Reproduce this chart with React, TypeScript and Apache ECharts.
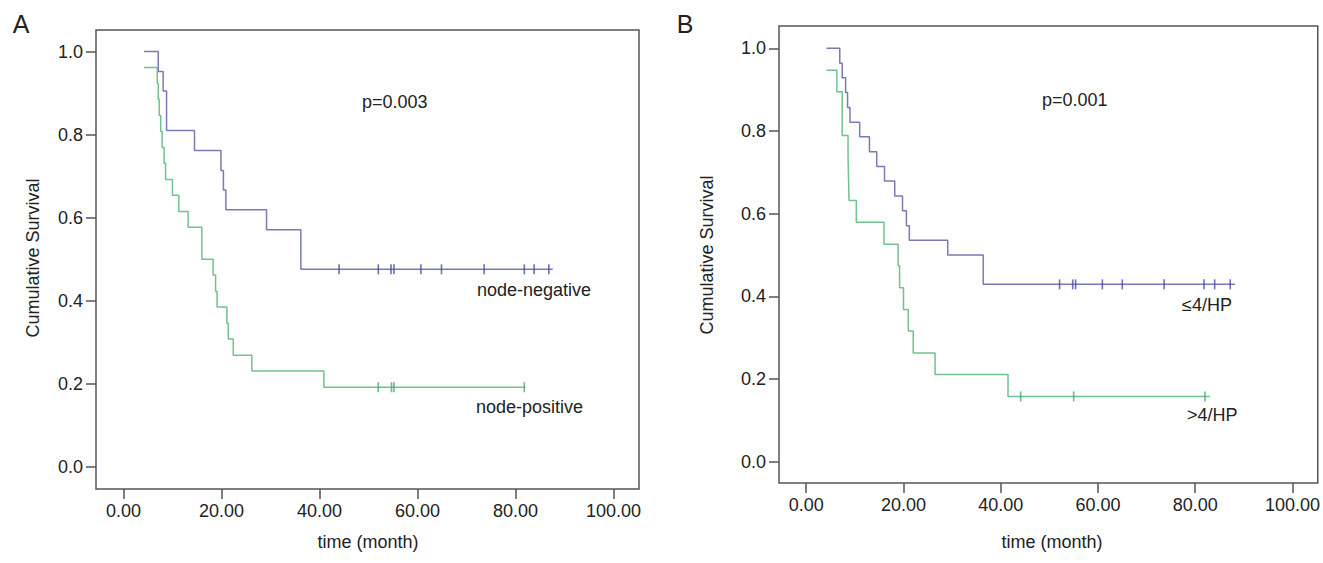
import React, { useEffect, useRef } from "react";
import * as echarts from "echarts";

// ---- Data (months, cumulative survival) ----
const xTicks = [0, 20, 40, 60, 80, 100];
const yTicks = [0, 0.2, 0.4, 0.6, 0.8, 1.0];

// Panel A
const aNegTimes = [4.2, 7.1, 8.1, 8.8, 14.5, 19.9, 20.4, 20.9, 29.2, 36.2, 87.6];
const aNegSurv = [1.0, 0.952, 0.905, 0.81, 0.762, 0.714, 0.667, 0.619, 0.571, 0.476, 0.476];
const aNegCensor = [44.0, 52.0, 54.6, 55.2, 60.7, 64.9, 73.6, 81.8, 83.8, 86.8];

const aPosTimes = [4.2, 6.9, 7.1, 7.3, 7.6, 7.9, 8.3, 8.6, 10.0, 11.3, 13.2, 16.0, 18.3, 18.8, 19.1, 21.1, 21.4, 22.4, 26.2, 40.9, 82.0];
const aPosSurv = [0.962, 0.923, 0.885, 0.846, 0.808, 0.769, 0.731, 0.692, 0.654, 0.615, 0.577, 0.5, 0.462, 0.423, 0.385, 0.346, 0.308, 0.269, 0.231, 0.192, 0.192];
const aPosCensor = [52.0, 54.7, 55.2, 81.8];

// Panel B
const bLowTimes = [4.15, 6.9, 7.4, 8.1, 8.5, 9.0, 11.0, 13.0, 14.5, 16.1, 18.2, 19.8, 20.6, 21.2, 29.1, 36.4, 88.2];
const bLowSurv = [1.0, 0.964, 0.929, 0.893, 0.857, 0.821, 0.786, 0.75, 0.714, 0.679, 0.643, 0.607, 0.571, 0.536, 0.5, 0.429, 0.429];
const bLowCensor = [52.1, 54.8, 55.4, 60.9, 65.0, 73.6, 81.8, 84.0, 87.2];

const bHighTimes = [4.15, 6.3, 7.4, 8.6, 8.7, 8.8, 10.3, 16.0, 18.9, 19.2, 20.0, 21.0, 22.0, 26.5, 41.5, 83.0];
const bHighSurv = [0.947, 0.895, 0.789, 0.737, 0.684, 0.632, 0.579, 0.526, 0.474, 0.421, 0.368, 0.316, 0.263, 0.211, 0.158, 0.158];
const bHighCensor = [44.1, 55.0, 82.0];

const FONT = "Liberation Sans, Arial, sans-serif";
const BLUE = "#7a7ab4";
const BLUE_C = "#4a4aa8";
const GREEN = "#72c290";
const GREEN_C = "#4aa86a";

function survAt(times: number[], surv: number[], t: number) {
  let s = surv[0];
  for (let i = 0; i < times.length; i++) if (times[i] <= t) s = surv[i];
  return s;
}

function curveSeries(idx: number, times: number[], surv: number[], censor: number[], color: string, cColor: string) {
  return [
    {
      type: "line",
      xAxisIndex: idx,
      yAxisIndex: idx,
      step: "end",
      showSymbol: false,
      symbol: "none",
      lineStyle: { color, width: 1.5 },
      data: times.map((t, i) => [t, surv[i]]),
      z: 2,
    },
    {
      type: "scatter",
      xAxisIndex: idx,
      yAxisIndex: idx,
      symbol: "rect",
      symbolSize: [1.6, 10],
      itemStyle: { color: cColor },
      data: censor.map((t) => [t, survAt(times, surv, t)]),
      z: 3,
    },
  ];
}

function xAxis(idx: number) {
  return {
    type: "value",
    gridIndex: idx,
    min: -5.6,
    max: 105.2,
    axisLine: { show: false, onZero: false },
    splitLine: { show: false },
    axisTick: { show: true, inside: false, length: 10, customValues: xTicks, lineStyle: { color: "#555", width: 1.5 } },
    axisLabel: {
      customValues: xTicks,
      formatter: (v: number) => v.toFixed(2),
      fontSize: 18,
      fontFamily: FONT,
      color: "#222",
      margin: 13,
    },
  };
}

function yAxis(idx: number, min: number, max: number) {
  return {
    type: "value",
    gridIndex: idx,
    min,
    max,
    axisLine: { show: false, onZero: false },
    splitLine: { show: false },
    axisTick: { show: true, inside: false, length: 10, customValues: yTicks, lineStyle: { color: "#555", width: 1.5 } },
    axisLabel: {
      customValues: yTicks,
      formatter: (v: number) => v.toFixed(1),
      fontSize: 18,
      fontFamily: FONT,
      color: "#222",
      margin: 13,
    },
  };
}

function txt(x: number, y: number, text: string, size = 18, align = "left", rotation = 0) {
  return {
    type: "text",
    x,
    y,
    rotation,
    style: { text, fontSize: size, fontFamily: FONT, fill: "#222", textAlign: align, textVerticalAlign: "middle" },
  };
}

export default function App() {
  const ref = useRef<HTMLDivElement>(null);
  useEffect(() => {
    document.body.style.margin = "0";
    const chart = echarts.init(ref.current!, null, { renderer: "svg" });
    chart.setOption({
      animation: false,
      backgroundColor: "#fff",
      grid: [
        { left: 96, top: 30, width: 543, height: 459, show: true, borderColor: "#555", borderWidth: 1.5, backgroundColor: "transparent" },
        { left: 779, top: 26, width: 539, height: 457, show: true, borderColor: "#555", borderWidth: 1.5, backgroundColor: "transparent" },
      ],
      xAxis: [xAxis(0), xAxis(1)],
      yAxis: [yAxis(0, -0.053, 1.052), yAxis(1, -0.0515, 1.054)],
      series: [
        ...curveSeries(0, aNegTimes, aNegSurv, aNegCensor, BLUE, BLUE_C),
        ...curveSeries(0, aPosTimes, aPosSurv, aPosCensor, GREEN, GREEN_C),
        ...curveSeries(1, bLowTimes, bLowSurv, bLowCensor, BLUE, BLUE_C),
        ...curveSeries(1, bHighTimes, bHighSurv, bHighCensor, GREEN, GREEN_C),
      ],
      graphic: [
        txt(21, 24, "A", 25, "center"),
        txt(685, 24, "B", 25, "center"),
        txt(362, 102, "p=0.003"),
        txt(1042, 100, "p=0.001"),
        txt(477, 290, "node-negative"),
        txt(476, 407, "node-positive"),
        txt(1182, 305, "≤4/HP"),
        txt(1187, 415, ">4/HP"),
        txt(368, 542, "time (month)", 18, "center"),
        txt(1052, 542, "time (month)", 18, "center"),
        txt(33, 258, "Cumulative Survival", 18, "center", Math.PI / 2),
        txt(707, 255, "Cumulative Survival", 18, "center", Math.PI / 2),
      ],
    });
    return () => chart.dispose();
  }, []);
  return <div ref={ref} style={{ width: 1323, height: 563 }} />;
}
